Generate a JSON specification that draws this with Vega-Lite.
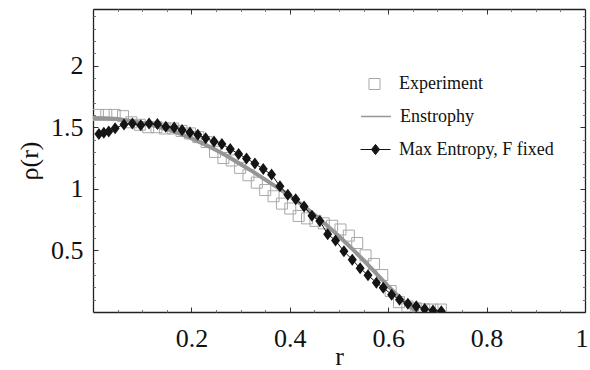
{
  "$schema": "https://vega.github.io/schema/vega-lite/v6.json",
  "width": 492,
  "height": 303,
  "autosize": {"type": "none"},
  "padding": {"left": 93, "top": 9, "right": 5, "bottom": 58},
  "background": "white",
  "config": {
    "font": "Liberation Serif",
    "view": {"stroke": null},
    "axis": {
      "grid": false,
      "labelFont": "Liberation Serif",
      "labelFontSize": 26,
      "labelColor": "#111",
      "titleFont": "Liberation Serif",
      "titleFontSize": 26,
      "titleFontWeight": "normal",
      "titleColor": "#111",
      "tickColor": "#333",
      "tickWidth": 1,
      "domainColor": "#222",
      "domainWidth": 1.3
    },
    "legend": {
      "title": null,
      "orient": "none",
      "padding": 0,
      "labelFont": "Liberation Serif",
      "labelFontSize": 18,
      "labelColor": "#111",
      "symbolOpacity": 1
    }
  },
  "datasets": {
    "experiment": [
      {"r": 0.010, "rho": 1.60, "series": "Experiment"},
      {"r": 0.027, "rho": 1.60, "series": "Experiment"},
      {"r": 0.044, "rho": 1.60, "series": "Experiment"},
      {"r": 0.061, "rho": 1.59, "series": "Experiment"},
      {"r": 0.078, "rho": 1.54, "series": "Experiment"},
      {"r": 0.095, "rho": 1.52, "series": "Experiment"},
      {"r": 0.112, "rho": 1.50, "series": "Experiment"},
      {"r": 0.129, "rho": 1.50, "series": "Experiment"},
      {"r": 0.146, "rho": 1.49, "series": "Experiment"},
      {"r": 0.163, "rho": 1.49, "series": "Experiment"},
      {"r": 0.180, "rho": 1.47, "series": "Experiment"},
      {"r": 0.197, "rho": 1.45, "series": "Experiment"},
      {"r": 0.214, "rho": 1.42, "series": "Experiment"},
      {"r": 0.231, "rho": 1.38, "series": "Experiment"},
      {"r": 0.248, "rho": 1.30, "series": "Experiment"},
      {"r": 0.265, "rho": 1.25, "series": "Experiment"},
      {"r": 0.282, "rho": 1.23, "series": "Experiment"},
      {"r": 0.299, "rho": 1.17, "series": "Experiment"},
      {"r": 0.316, "rho": 1.11, "series": "Experiment"},
      {"r": 0.333, "rho": 1.05, "series": "Experiment"},
      {"r": 0.350, "rho": 0.99, "series": "Experiment"},
      {"r": 0.367, "rho": 0.94, "series": "Experiment"},
      {"r": 0.384, "rho": 0.88, "series": "Experiment"},
      {"r": 0.401, "rho": 0.84, "series": "Experiment"},
      {"r": 0.418, "rho": 0.78, "series": "Experiment"},
      {"r": 0.435, "rho": 0.76, "series": "Experiment"},
      {"r": 0.452, "rho": 0.74, "series": "Experiment"},
      {"r": 0.469, "rho": 0.72, "series": "Experiment"},
      {"r": 0.486, "rho": 0.70, "series": "Experiment"},
      {"r": 0.503, "rho": 0.67, "series": "Experiment"},
      {"r": 0.520, "rho": 0.62, "series": "Experiment"},
      {"r": 0.537, "rho": 0.56, "series": "Experiment"},
      {"r": 0.554, "rho": 0.46, "series": "Experiment"},
      {"r": 0.571, "rho": 0.39, "series": "Experiment"},
      {"r": 0.588, "rho": 0.30, "series": "Experiment"},
      {"r": 0.605, "rho": 0.17, "series": "Experiment"},
      {"r": 0.622, "rho": 0.08, "series": "Experiment"},
      {"r": 0.639, "rho": 0.045, "series": "Experiment"},
      {"r": 0.656, "rho": 0.03, "series": "Experiment"},
      {"r": 0.673, "rho": 0.022, "series": "Experiment"},
      {"r": 0.690, "rho": 0.02, "series": "Experiment"},
      {"r": 0.707, "rho": 0.02, "series": "Experiment"}
    ],
    "enstrophy": [
      {"r": 0.000, "rho": 1.575, "series": "Enstrophy"},
      {"r": 0.025, "rho": 1.573, "series": "Enstrophy"},
      {"r": 0.050, "rho": 1.566, "series": "Enstrophy"},
      {"r": 0.075, "rho": 1.553, "series": "Enstrophy"},
      {"r": 0.100, "rho": 1.535, "series": "Enstrophy"},
      {"r": 0.125, "rho": 1.512, "series": "Enstrophy"},
      {"r": 0.150, "rho": 1.484, "series": "Enstrophy"},
      {"r": 0.175, "rho": 1.450, "series": "Enstrophy"},
      {"r": 0.200, "rho": 1.410, "series": "Enstrophy"},
      {"r": 0.225, "rho": 1.365, "series": "Enstrophy"},
      {"r": 0.250, "rho": 1.315, "series": "Enstrophy"},
      {"r": 0.275, "rho": 1.260, "series": "Enstrophy"},
      {"r": 0.300, "rho": 1.200, "series": "Enstrophy"},
      {"r": 0.325, "rho": 1.140, "series": "Enstrophy"},
      {"r": 0.350, "rho": 1.075, "series": "Enstrophy"},
      {"r": 0.375, "rho": 1.010, "series": "Enstrophy"},
      {"r": 0.400, "rho": 0.945, "series": "Enstrophy"},
      {"r": 0.425, "rho": 0.870, "series": "Enstrophy"},
      {"r": 0.450, "rho": 0.790, "series": "Enstrophy"},
      {"r": 0.475, "rho": 0.705, "series": "Enstrophy"},
      {"r": 0.500, "rho": 0.615, "series": "Enstrophy"},
      {"r": 0.525, "rho": 0.520, "series": "Enstrophy"},
      {"r": 0.550, "rho": 0.420, "series": "Enstrophy"},
      {"r": 0.575, "rho": 0.315, "series": "Enstrophy"},
      {"r": 0.600, "rho": 0.210, "series": "Enstrophy"},
      {"r": 0.625, "rho": 0.110, "series": "Enstrophy"},
      {"r": 0.650, "rho": 0.025, "series": "Enstrophy"},
      {"r": 0.660, "rho": 0.000, "series": "Enstrophy"}
    ],
    "maxent": [
      {"r": 0.012, "rho": 1.445, "series": "Max Entropy, F fixed"},
      {"r": 0.022, "rho": 1.455, "series": "Max Entropy, F fixed"},
      {"r": 0.032, "rho": 1.466, "series": "Max Entropy, F fixed"},
      {"r": 0.045, "rho": 1.492, "series": "Max Entropy, F fixed"},
      {"r": 0.063, "rho": 1.523, "series": "Max Entropy, F fixed"},
      {"r": 0.080, "rho": 1.530, "series": "Max Entropy, F fixed"},
      {"r": 0.097, "rho": 1.516, "series": "Max Entropy, F fixed"},
      {"r": 0.114, "rho": 1.530, "series": "Max Entropy, F fixed"},
      {"r": 0.131, "rho": 1.526, "series": "Max Entropy, F fixed"},
      {"r": 0.148, "rho": 1.505, "series": "Max Entropy, F fixed"},
      {"r": 0.165, "rho": 1.497, "series": "Max Entropy, F fixed"},
      {"r": 0.181, "rho": 1.478, "series": "Max Entropy, F fixed"},
      {"r": 0.197, "rho": 1.458, "series": "Max Entropy, F fixed"},
      {"r": 0.213, "rho": 1.440, "series": "Max Entropy, F fixed"},
      {"r": 0.229, "rho": 1.410, "series": "Max Entropy, F fixed"},
      {"r": 0.246, "rho": 1.385, "series": "Max Entropy, F fixed"},
      {"r": 0.262, "rho": 1.363, "series": "Max Entropy, F fixed"},
      {"r": 0.279, "rho": 1.323, "series": "Max Entropy, F fixed"},
      {"r": 0.296, "rho": 1.283, "series": "Max Entropy, F fixed"},
      {"r": 0.312, "rho": 1.247, "series": "Max Entropy, F fixed"},
      {"r": 0.329, "rho": 1.205, "series": "Max Entropy, F fixed"},
      {"r": 0.346, "rho": 1.160, "series": "Max Entropy, F fixed"},
      {"r": 0.363, "rho": 1.116, "series": "Max Entropy, F fixed"},
      {"r": 0.380, "rho": 1.020, "series": "Max Entropy, F fixed"},
      {"r": 0.396, "rho": 0.952, "series": "Max Entropy, F fixed"},
      {"r": 0.412, "rho": 0.915, "series": "Max Entropy, F fixed"},
      {"r": 0.429, "rho": 0.856, "series": "Max Entropy, F fixed"},
      {"r": 0.445, "rho": 0.782, "series": "Max Entropy, F fixed"},
      {"r": 0.461, "rho": 0.738, "series": "Max Entropy, F fixed"},
      {"r": 0.477, "rho": 0.632, "series": "Max Entropy, F fixed"},
      {"r": 0.493, "rho": 0.580, "series": "Max Entropy, F fixed"},
      {"r": 0.510, "rho": 0.493, "series": "Max Entropy, F fixed"},
      {"r": 0.527, "rho": 0.425, "series": "Max Entropy, F fixed"},
      {"r": 0.543, "rho": 0.355, "series": "Max Entropy, F fixed"},
      {"r": 0.559, "rho": 0.298, "series": "Max Entropy, F fixed"},
      {"r": 0.576, "rho": 0.238, "series": "Max Entropy, F fixed"},
      {"r": 0.590, "rho": 0.197, "series": "Max Entropy, F fixed"},
      {"r": 0.607, "rho": 0.141, "series": "Max Entropy, F fixed"},
      {"r": 0.623, "rho": 0.100, "series": "Max Entropy, F fixed"},
      {"r": 0.640, "rho": 0.067, "series": "Max Entropy, F fixed"},
      {"r": 0.657, "rho": 0.046, "series": "Max Entropy, F fixed"},
      {"r": 0.674, "rho": 0.024, "series": "Max Entropy, F fixed"},
      {"r": 0.691, "rho": 0.013, "series": "Max Entropy, F fixed"},
      {"r": 0.708, "rho": 0.006, "series": "Max Entropy, F fixed"}
    ]
  },
  "resolve": {
    "axis": {"x": "independent", "y": "independent"},
    "scale": {"color": "independent"},
    "legend": {"color": "independent"}
  },
  "layer": [
    {
      "data": {"name": "experiment"},
      "mark": {"type": "point", "shape": "square", "filled": false, "size": 121, "strokeWidth": 1, "opacity": 1, "clip": true},
      "encoding": {
        "x": {
          "field": "r", "type": "quantitative",
          "scale": {"domain": [0, 1], "nice": false, "zero": false},
          "axis": {"orient": "bottom", "values": [0.2, 0.4, 0.6, 0.8, 1], "format": "~g", "tickSize": -5, "labelPadding": 18, "title": "r", "titlePadding": -8, "labelFlush": true, "labelFlushOffset": 3}
        },
        "y": {
          "field": "rho", "type": "quantitative",
          "scale": {"domain": [0, 2.46], "nice": false, "zero": false},
          "axis": {"orient": "left", "values": [0.5, 1, 1.5, 2], "format": "~g", "tickSize": -5, "labelPadding": 15, "title": "ρ(r)", "titlePadding": 8, "labelFlush": false}
        },
        "color": {
          "field": "series", "type": "nominal",
          "scale": {"range": ["#a8a8a8"]},
          "legend": {"legendX": 272.5, "legendY": 66, "symbolType": "square", "symbolSize": 121, "symbolStrokeWidth": 1, "labelOffset": 15.5}
        }
      }
    },
    {
      "data": {"name": "enstrophy"},
      "mark": {"type": "line", "strokeWidth": 4, "clip": true},
      "encoding": {
        "x": {
          "field": "r", "type": "quantitative",
          "scale": {"domain": [0, 1], "nice": false, "zero": false},
          "axis": {"orient": "bottom", "values": [0.05, 0.1, 0.15, 0.25, 0.3, 0.35, 0.45, 0.5, 0.55, 0.65, 0.7, 0.75, 0.85, 0.9, 0.95], "labels": false, "domain": false, "tickSize": -2.5, "tickColor": "#777", "title": null}
        },
        "y": {
          "field": "rho", "type": "quantitative",
          "scale": {"domain": [0, 2.46], "nice": false, "zero": false},
          "axis": {"orient": "left", "values": [0.1, 0.2, 0.3, 0.4, 0.6, 0.7, 0.8, 0.9, 1.1, 1.2, 1.3, 1.4, 1.6, 1.7, 1.8, 1.9, 2.1, 2.2, 2.3, 2.4], "labels": false, "domain": false, "tickSize": -2.5, "tickColor": "#777", "title": null}
        },
        "color": {
          "field": "series", "type": "nominal",
          "scale": {"range": ["#959595"]},
          "legend": {"legendX": 267, "legendY": 91.5, "symbolType": "stroke", "symbolSize": 900, "symbolStrokeWidth": 1.5, "symbolStrokeColor": "#8a8a8a", "labelOffset": 8}
        }
      }
    },
    {
      "data": {"name": "maxent"},
      "mark": {"type": "line", "strokeWidth": 1, "clip": true},
      "encoding": {
        "x": {
          "field": "r", "type": "quantitative",
          "scale": {"domain": [0, 1], "nice": false, "zero": false},
          "axis": {"orient": "top", "values": [0.2, 0.4, 0.6, 0.8], "labels": false, "tickSize": -5, "title": null}
        },
        "y": {
          "field": "rho", "type": "quantitative",
          "scale": {"domain": [0, 2.46], "nice": false, "zero": false},
          "axis": {"orient": "right", "values": [0.5, 1, 1.5, 2], "labels": false, "tickSize": -5, "title": null}
        },
        "color": {
          "field": "series", "type": "nominal",
          "scale": {"range": ["#141414"]},
          "legend": null
        }
      }
    },
    {
      "data": {"name": "maxent"},
      "mark": {"type": "point", "shape": "M0,-1L0.75,0L0,1L-0.75,0Z", "filled": true, "size": 144, "opacity": 1, "clip": true},
      "encoding": {
        "x": {
          "field": "r", "type": "quantitative",
          "scale": {"domain": [0, 1], "nice": false, "zero": false},
          "axis": {"orient": "top", "values": [0.05, 0.1, 0.15, 0.25, 0.3, 0.35, 0.45, 0.5, 0.55, 0.65, 0.7, 0.75, 0.85, 0.9, 0.95], "labels": false, "domain": false, "tickSize": -2.5, "tickColor": "#777", "title": null}
        },
        "y": {
          "field": "rho", "type": "quantitative",
          "scale": {"domain": [0, 2.46], "nice": false, "zero": false},
          "axis": {"orient": "right", "values": [0.1, 0.2, 0.3, 0.4, 0.6, 0.7, 0.8, 0.9, 1.1, 1.2, 1.3, 1.4, 1.6, 1.7, 1.8, 1.9, 2.1, 2.2, 2.3, 2.4], "labels": false, "domain": false, "tickSize": -2.5, "tickColor": "#777", "title": null}
        },
        "color": {
          "field": "series", "type": "nominal",
          "scale": {"range": ["#141414"]},
          "legend": {"legendX": 267, "legendY": 125, "symbolType": "M-1,0H1M0,-0.34L0.27,0L0,0.34L-0.27,0Z", "symbolSize": 900, "symbolStrokeWidth": 1, "symbolStrokeColor": "#141414", "labelOffset": 8}
        }
      }
    }
  ]
}
